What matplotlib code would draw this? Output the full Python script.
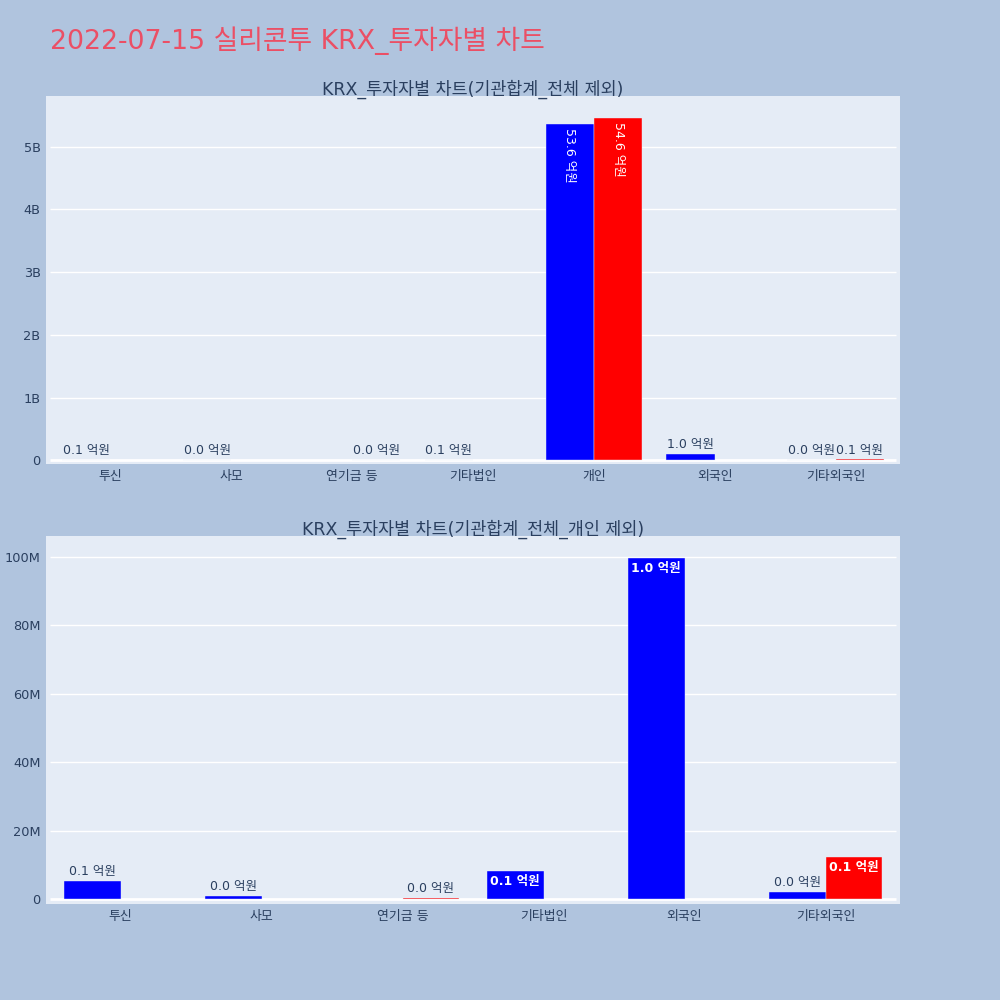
import matplotlib
matplotlib.use("Agg")
import matplotlib.pyplot as plt
import numpy as np

plt.rcParams['font.family'] = ['DejaVu Sans', 'Noto Sans CJK KR']

title = "2022-07-15 실리콘투 KRX_투자자별 차트"
sub1 = "KRX_투자자별 차트(기관합계_전체 제외)"
sub2 = "KRX_투자자별 차트(기관합계_전체_개인 제외)"

cats1 = ["투신", "사모", "연기금 등", "기타법인", "개인", "외국인", "기타외국인"]
blue1 = [5.2e6, 1.0e6, np.nan, 8.2e6, 5.36e9, 99.7e6, 2.0e6]
red1 = [np.nan, np.nan, 0.35e6, np.nan, 5.46e9, np.nan, 12.3e6]

cats2 = ["투신", "사모", "연기금 등", "기타법인", "외국인", "기타외국인"]
blue2 = [5.2e6, 1.0e6, np.nan, 8.2e6, 99.7e6, 2.0e6]
red2 = [np.nan, np.nan, 0.35e6, np.nan, np.nan, 12.3e6]

yticks1 = [0, 1e9, 2e9, 3e9, 4e9, 5e9]
yticklabels1 = ["0", "1B", "2B", "3B", "4B", "5B"]
yticks2 = [0, 20e6, 40e6, 60e6, 80e6, 100e6]
yticklabels2 = ["0", "20M", "40M", "60M", "80M", "100M"]

BG = "#b0c4de"
PBG = "#e5ecf6"
TXT = "#2a3f5f"

fig = plt.figure(figsize=(10, 10), dpi=100, facecolor=BG)
ax1 = fig.add_axes([0.046, 0.536, 0.854, 0.368])
ax2 = fig.add_axes([0.046, 0.096, 0.854, 0.368])

def draw(ax, cats, blue, red, ylim, yticks, yticklabels, rotate):
    ax.set_facecolor(PBG)
    n = len(cats)
    x = np.arange(n)
    w = 0.4
    ymax = np.nanmax(np.concatenate([blue, red]))
    for vals, off, col in [(blue, -w / 2, "#0000ff"), (red, w / 2, "#ff0000")]:
        for xi, v in zip(x, vals):
            if np.isnan(v):
                continue
            ax.bar(xi + off, v, width=w, color=col, edgecolor=PBG, linewidth=0.3, zorder=3)
            lab = f"{v / 1e8:.1f} 억원"
            if v > 0.07 * ymax:
                if rotate:
                    ax.annotate(lab, (xi + off, v), xytext=(0, -3), textcoords="offset points",
                                ha="center", va="top", rotation=270, color="white",
                                fontsize=9, zorder=4)
                else:
                    ax.annotate(lab, (xi + off, v), xytext=(0, -3), textcoords="offset points",
                                ha="center", va="top", color="white", fontweight="bold",
                                fontsize=9, zorder=4)
            else:
                ax.annotate(lab, (xi + off, v), xytext=(0, 2), textcoords="offset points",
                            ha="center", va="bottom", color=TXT, fontsize=9, zorder=4)
    step_px = (854 - 8) / n
    d = 4 / step_px
    ax.set_xlim(-0.5 - d, n - 0.5 + d)
    ax.set_ylim(*ylim)
    ax.set_xticks(x)
    ax.set_xticklabels(cats)
    ax.set_yticks(yticks)
    ax.set_yticklabels(yticklabels)
    ax.tick_params(axis="both", length=0, colors=TXT, labelsize=9.3, pad=4)
    ax.hlines(yticks[1:], -0.5, n - 0.5, color="white", linewidth=1, zorder=1)
    ax.hlines([0], -0.5, n - 0.5, color="white", linewidth=2, zorder=2)
    for s in ax.spines.values():
        s.set_visible(False)

draw(ax1, cats1, np.array(blue1), np.array(red1), (-0.06e9, 5.81e9), yticks1, yticklabels1, True)
draw(ax2, cats2, np.array(blue2), np.array(red2), (-1.46e6, 106.1e6), yticks2, yticklabels2, False)

fig.text(0.05, 0.959, title, color="#eb4f65", fontsize=19.3, ha="left", va="center")
fig.text(0.473, 0.911, sub1, color=TXT, fontsize=12.5, ha="center", va="center")
fig.text(0.473, 0.471, sub2, color=TXT, fontsize=12.5, ha="center", va="center")

fig.savefig("out.png", dpi=100, facecolor=BG)
